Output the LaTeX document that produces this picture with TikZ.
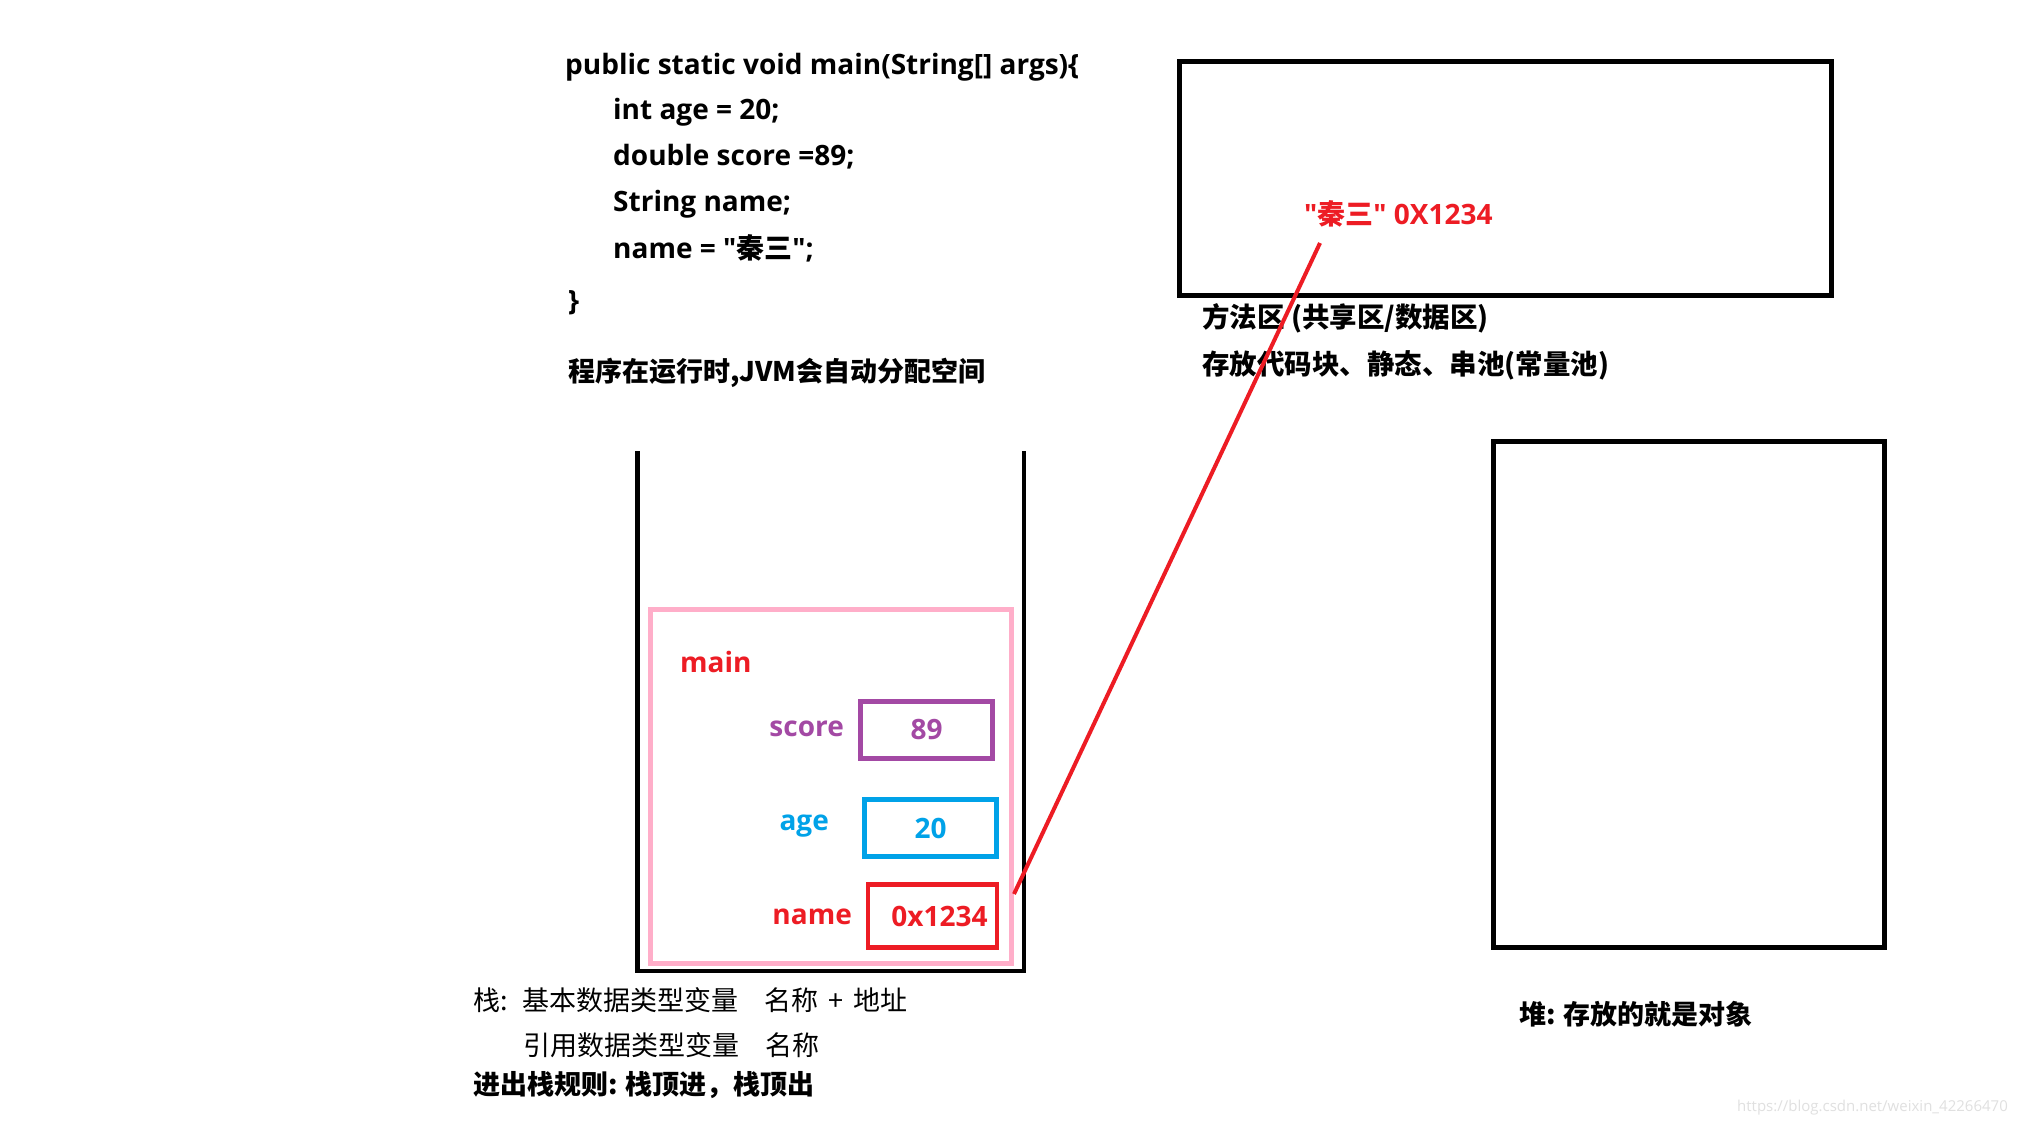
\documentclass[tikz,border=0pt]{standalone}
\usepackage{fontspec}
\newfontfamily\latin{Open Sans}
\newfontfamily\cjk{Noto Sans CJK SC}
\definecolor{rojo}{RGB}{237,28,36}
\definecolor{morado}{RGB}{163,73,164}
\definecolor{celeste}{RGB}{0,162,232}
\definecolor{rosa}{RGB}{255,174,201}
\begin{document}
\begin{tikzpicture}[
        x=1pt, y=-1pt,
        every node/.style={font=\fontsize{28}{34}\selectfont\latin\bfseries, inner sep=0pt},
        texto/.style={anchor=west},
        nota/.style={anchor=west, font=\fontsize{27}{32}\selectfont\cjk},
        notab/.style={anchor=west, font=\fontsize{27}{32}\selectfont\cjk\bfseries},
        zona/.style={draw, line width=5pt},
        marco/.style={draw=rosa, line width=5pt},
        celda/.style={draw, line width=4.5pt, minimum width=132pt, minimum height=57pt}
    ]

    \path[use as bounding box, fill=white] (0,0) rectangle (2018,1122);

    % Codigo
    \node[texto] (linea1) at (565,67) {public static void main(String[] args)\{};
    \node[texto] (linea2) at (613,112) {int age = 20;};
    \node[texto] (linea3) at (613,157) {double score =89;};
    \node[texto] (linea4) at (613,204) {String name;};
    \node[texto] (linea5) at (613,248) {name = "{\cjk 秦三}";};
    \node[texto] (cierre) at (568,303) {\}};
    \node[notab] (jvm) at (568,373) {程序在运行时,JVM会自动分配空间};

    % Metodo
    \node[zona, minimum width=652pt, minimum height=234pt] (metodo) at (1505,178) {};
    \node[texto, text=rojo] (cadena) at (1304,214) {"{\cjk 秦三}" 0X1234};
    \node[notab, font=\fontsize{27.5}{33}\selectfont\cjk\bfseries] (metodo1) at (1202,318) {方法区 (共享区/数据区)};
    \node[notab, font=\fontsize{27.5}{33}\selectfont\cjk\bfseries] (metodo2) at (1202,365) {存放代码块、静态、串池(常量池)};

    % Pila
    \draw[line width=4.5pt] (637.5,451) -- (637.5,971) -- (1024,971) -- (1024,451);
    \node[marco, minimum width=361.5pt, minimum height=354pt] (marco) at (831,786) {};
    \node[texto, text=rojo] (main) at (680,662) {main};
    \node[celda, draw=morado, text=morado] (score) at (926.5,730) {89};
    \node[anchor=east, text=morado] (lscore) at (844,729) {score};
    \node[celda, draw=celeste, text=celeste] (age) at (930.5,828) {20};
    \node[anchor=east, text=celeste] (lage) at (829,826) {age};
    \node[celda, draw=rojo, text=rojo, minimum width=129pt, minimum height=63pt] (name) at (932.5,916) {\hspace{14pt}0x1234};
    \node[anchor=east, text=rojo] (lname) at (852,917) {name};

    % Referencia
    \coordinate (desde) at (1014,894);
    \coordinate (hasta) at (1320,243);
    \draw[rojo, line width=4pt] (desde) -- (hasta);

    % Heap
    \node[zona, minimum width=391pt, minimum height=506pt] (heap) at (1689,694) {};
    \node[notab] (lheap) at (1519,1014) {堆: 存放的就是对象};

    % Notas
    \node[nota] (pila1) at (473,1000) {栈:\hspace{15pt}基本数据类型变量\hspace{26pt}名称\hspace{10pt}+\hspace{10pt}地址};
    \node[nota] (pila2) at (523,1045) {引用数据类型变量\hspace{26pt}名称};
    \node[notab] (pila3) at (473,1085) {进出栈规则: 栈顶进，栈顶出};
    \node[texto, font=\fontsize{15}{18}\selectfont\latin, text=black!12] (marca) at (1737,1108) {https://blog.csdn.net/weixin\_42266470};
\end{tikzpicture}
\end{document}
